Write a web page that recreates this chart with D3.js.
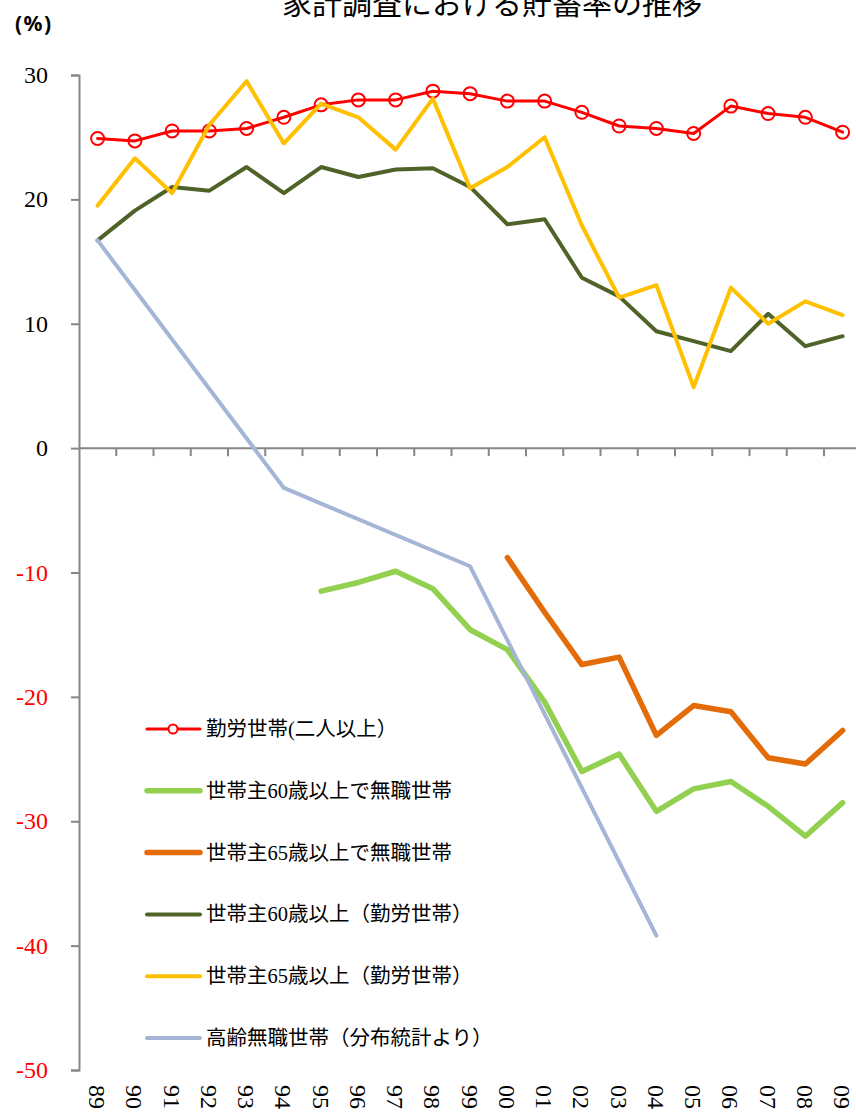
<!DOCTYPE html>
<html>
<head>
<meta charset="utf-8">
<script src="https://cdn.jsdelivr.net/npm/d3@7/dist/d3.min.js"></script>
<style>
  html, body { margin: 0; padding: 0; background: #fff; }
  svg { display: block; }
</style>
</head>
<body>
<svg id="chart" width="856" height="1116"></svg>
<script>
// Years (fiscal, two-digit labels)
const years = ["89","90","91","92","93","94","95","96","97","98","99","00","01","02","03","04","05","06","07","08","09"];

// Savings rate, % (null where the survey has no value)
const workersAll = [24.9,24.7,25.5,25.5,25.7,26.6,27.6,28.0,28.0,28.7,28.5,27.9,27.9,27.0,25.9,25.7,25.3,27.5,26.9,26.6,25.4];
const noJob60 = [null,null,null,null,null,null,-11.5,-10.8,-9.9,-11.3,-14.6,-16.2,-20.4,-26.0,-24.6,-29.2,-27.4,-26.8,-28.8,-31.2,-28.5];
const noJob65 = [null,null,null,null,null,null,null,null,null,null,null,-8.8,-13.2,-17.4,-16.8,-23.1,-20.7,-21.2,-24.9,-25.4,-22.7];
const workers60 = [16.7,19.1,21.0,20.7,22.6,20.5,22.6,21.8,22.4,22.5,21.0,18.0,18.4,13.7,12.2,9.4,8.6,7.8,10.8,8.2,9.0];
const workers65 = [19.5,23.3,20.5,26.0,29.5,24.5,27.7,26.6,24.0,28.1,20.9,22.6,25.0,17.9,12.1,13.1,4.9,12.9,10.0,11.8,10.7];
const elderlyNoJob = [16.7,null,null,null,null,-3.2,null,null,null,null,-9.5,null,null,null,null,-39.2,null,null,null,null,null];

const yTicks = [30,20,10,0,-10,-20,-30,-40,-50];

const seriesNames = [
  "勤労世帯(二人以上）",
  "世帯主60歳以上で無職世帯",
  "世帯主65歳以上で無職世帯",
  "世帯主60歳以上（勤労世帯）",
  "世帯主65歳以上（勤労世帯）",
  "高齢無職世帯（分布統計より）"
];
const seriesValues = [workersAll, noJob60, noJob65, workers60, workers65, elderlyNoJob];
const seriesColors = ["#FF0000","#92D050","#E36C09","#4F6228","#FFC000","#A5B5D6"];
const seriesWidths = [3, 5.5, 5.5, 4, 4, 4];

const svg = d3.select("#chart");
const serif = "'Liberation Serif', 'Times New Roman', serif";
const cjk = "'Liberation Serif', 'Noto Sans CJK JP', serif";

const plotLeft = 79, plotTop = 75, plotBottom = 1070;
const step = 37.25;
const plotRight = plotLeft + step * years.length;

const xBand = d3.scaleBand().domain(years).range([plotLeft, plotRight]).padding(0);
const x = d3.scalePoint().domain(years).range([plotLeft, plotRight]).padding(0.5);
const y = d3.scaleLinear().domain([-50, 30]).range([plotBottom, plotTop]);

// Title and unit
svg.append("text")
  .attr("x", 492).attr("y", 14)
  .attr("text-anchor", "middle")
  .style("font-family", "'Noto Sans CJK JP', sans-serif")
  .style("font-size", "30px")
  .text("家計調査における貯蓄率の推移");

svg.append("text")
  .attr("x", 15).attr("y", 31)
  .style("font-family", "'Noto Sans', sans-serif")
  .style("font-weight", "bold")
  .style("font-size", "21px")
  .style("letter-spacing", "1.5px")
  .text("(%)");

// Value axis
const yAxis = svg.append("g")
  .attr("transform", `translate(${plotLeft},0)`)
  .call(d3.axisLeft(y).tickValues(yTicks).tickSize(8).tickSizeOuter(8).tickFormat(""));
yAxis.selectAll("path, line").attr("stroke", "#868686").attr("stroke-width", 2);

svg.append("g").selectAll("text")
  .data(yTicks)
  .join("text")
  .attr("x", 48)
  .attr("y", d => y(d) + 8)
  .attr("text-anchor", "end")
  .attr("fill", d => d < 0 ? "#FF0000" : "#000")
  .style("font-family", serif)
  .style("font-size", "24px")
  .text(d => d);

// Category axis along zero, ticks between categories
const xAxis = svg.append("g")
  .attr("transform", `translate(0,${y(0)})`);
xAxis.append("line")
  .attr("x1", plotLeft).attr("x2", 856)
  .attr("stroke", "#868686").attr("stroke-width", 2);
xAxis.selectAll("line.tick")
  .data(years.slice(1))
  .join("line")
  .attr("class", "tick")
  .attr("x1", d => xBand(d)).attr("x2", d => xBand(d))
  .attr("y1", 0).attr("y2", 8)
  .attr("stroke", "#868686").attr("stroke-width", 2);

// Year labels at the bottom, rotated
svg.append("g").selectAll("text")
  .data(years)
  .join("text")
  .attr("transform", d => `translate(${x(d)},1085) rotate(90)`)
  .attr("dy", "0.35em")
  .style("font-family", serif)
  .style("font-size", "24px")
  .text(d => d);

// Series lines
const line = d3.line()
  .x(d => x(d.year))
  .y(d => y(d.value));

seriesValues.forEach((vals, i) => {
  const pts = years.map((yr, j) => ({year: yr, value: vals[j]})).filter(p => p.value !== null);
  svg.append("path")
    .datum(pts)
    .attr("fill", "none")
    .attr("stroke", seriesColors[i])
    .attr("stroke-width", seriesWidths[i])
    .attr("stroke-linejoin", "round")
    .attr("stroke-linecap", "round")
    .attr("d", line);
  if (i === 0) {
    svg.append("g").selectAll("circle")
      .data(pts)
      .join("circle")
      .attr("cx", d => x(d.year))
      .attr("cy", d => y(d.value))
      .attr("r", 6.5)
      .attr("fill", "none")
      .attr("stroke", seriesColors[i])
      .attr("stroke-width", 2);
  }
});

// Legend
const legend = svg.append("g");
seriesNames.forEach((name, i) => {
  const ly = 729 + i * 61.8;
  legend.append("line")
    .attr("x1", 147).attr("x2", 200)
    .attr("y1", ly).attr("y2", ly)
    .attr("stroke", seriesColors[i])
    .attr("stroke-width", seriesWidths[i])
    .attr("stroke-linecap", "round");
  if (i === 0) {
    legend.append("circle")
      .attr("cx", 173).attr("cy", ly).attr("r", 4.5)
      .attr("fill", "#fff")
      .attr("stroke", seriesColors[i])
      .attr("stroke-width", 2);
  }
  legend.append("text")
    .attr("x", 206).attr("y", ly + 7)
    .style("font-family", cjk)
    .style("font-size", "20.5px")
    .text(name);
});
</script>
</body>
</html>
